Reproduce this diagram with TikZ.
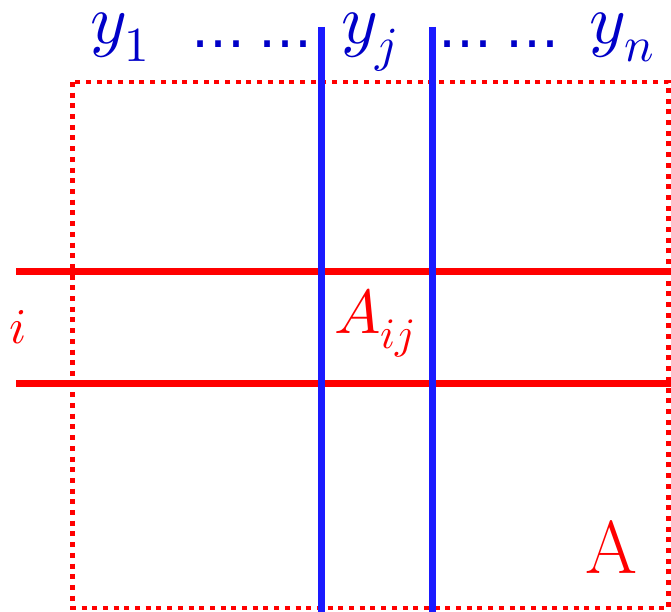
\documentclass[tikz,border=0pt]{standalone}
\usepackage{fontspec}
\usepackage{unicode-math}
\setmathfont{Latin Modern Math}
\newfontfamily\dotfont{DejaVu Sans}
\begin{document}
\definecolor{lblue}{RGB}{26,26,255}
\definecolor{tblue}{RGB}{0,0,200}
\definecolor{lred}{RGB}{255,0,0}
\begin{tikzpicture}[x=1pt,y=-1pt,
  redline/.style={draw=lred,line width=7pt},
  blueline/.style={draw=lblue,line width=7pt},
  dotrect/.style={draw=lred,line width=4.5pt,dash pattern=on 5pt off 5.7pt},
  ylabel/.style={text=tblue,inner sep=0pt,anchor=base,font=\fontsize{70}{76}\selectfont},
  dlabel/.style={text=tblue,inner sep=0pt,anchor=base,font=\dotfont\fontsize{54}{60}\selectfont},
  rlabel/.style={text=lred,inner sep=0pt,anchor=base}]
\useasboundingbox (0,0) rectangle (671,612);
\draw[dotrect] (72.5,82) rectangle (668.5,608);
\draw[redline] (16,271) -- (671,271);
\draw[redline] (16,383) -- (671,383);
\draw[blueline] (321,27) -- (321,612);
\draw[blueline] (432,27) -- (432,612);
\node[ylabel] (y1) at (120,44) {$y_1$};
\node[dlabel] (d1) at (252,48) {…\kern14pt…};
\node[ylabel] (yj) at (369,44) {$y_j$};
\node[dlabel] (d2) at (499,48) {…\kern14pt…};
\node[ylabel] (yn) at (622,44) {$y_n$};
\node[rlabel,anchor=base west,font=\fontsize{62}{68}\selectfont] (aij) at (334,333) {$A_{ij}$};
\node[rlabel,font=\fontsize{50}{56}\selectfont] (i) at (18,343) {$i$};
\node[rlabel,font=\fontsize{75}{80}\selectfont] (A) at (611,573) {A};
\end{tikzpicture}
\end{document}
